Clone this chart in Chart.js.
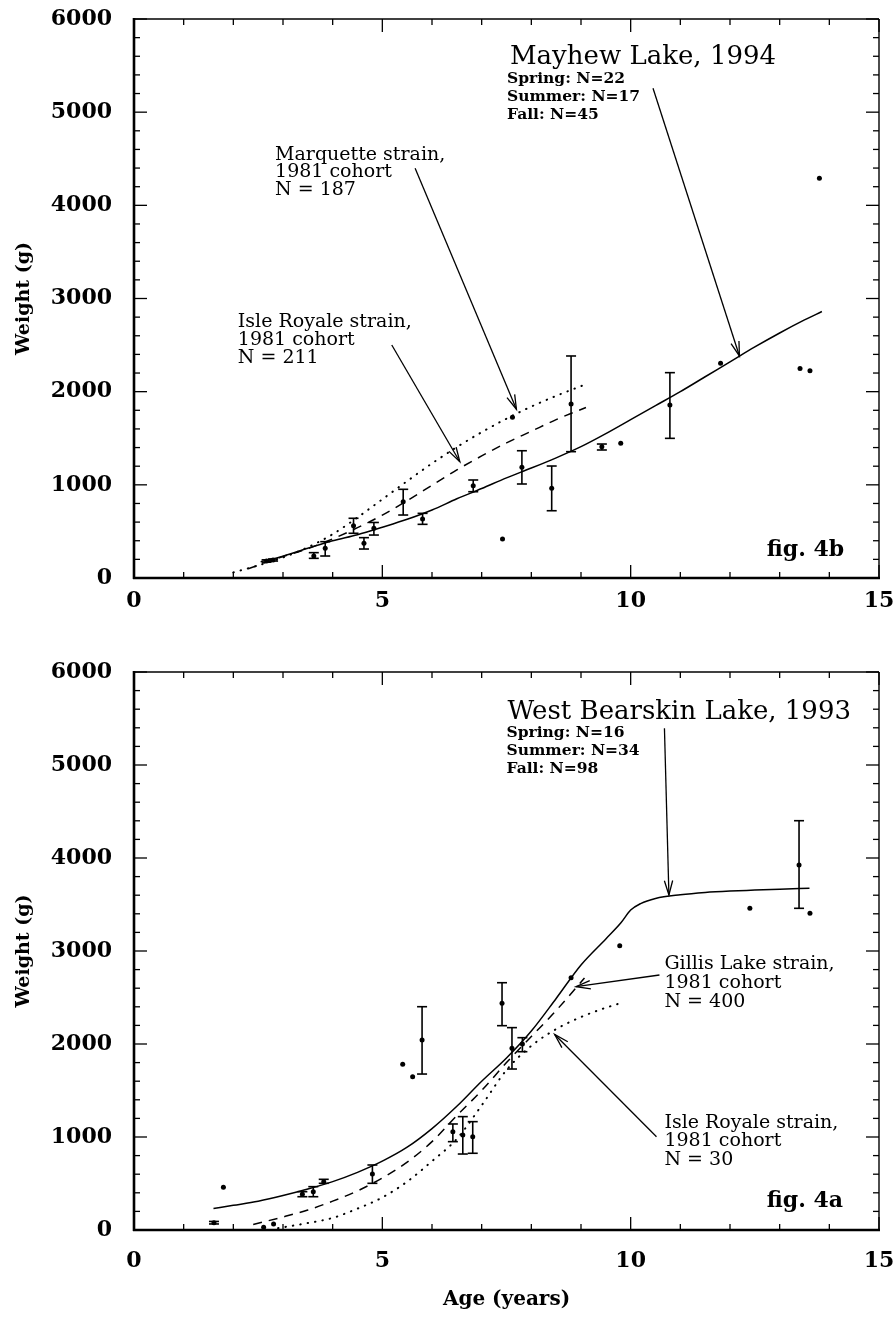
<!DOCTYPE html>
<html>
<head>
<meta charset="utf-8">
<script src="https://cdn.jsdelivr.net/npm/chart.js@4.4.0/dist/chart.umd.min.js"></script>
<style>
  html, body { margin: 0; padding: 0; background: #fff; }
  #wrap { position: relative; width: 894px; height: 1320px; }
  .box { position: absolute; left: 0; width: 894px; }
</style>
</head>
<body>
<div id="wrap">
  <div class="box" style="top:0;height:630px"><canvas id="fig4b"></canvas></div>
  <div class="box" style="top:640px;height:680px"><canvas id="fig4a"></canvas></div>
</div>
<script>
// ---- fig. 4b : Mayhew Lake, 1994 ----
// fitted growth curve (solid)
const mayhewFitAge = [2.55, 3.0, 3.5, 4.0, 4.5, 5.0, 5.5, 6.0, 6.5, 7.0, 7.5, 8.0, 8.5, 9.0, 9.5, 10.0, 10.5, 11.0, 11.5, 12.0, 12.5, 13.0, 13.5, 13.85];
const mayhewFitWt  = [175, 235, 320, 400, 465, 545, 630, 730, 850, 960, 1075, 1180, 1290, 1410, 1550, 1700, 1850, 2000, 2160, 2320, 2480, 2630, 2770, 2860];
// Isle Royale strain, 1981 cohort (dashed)
const isleTopAge = [2.3, 3.0, 3.5, 4.0, 4.5, 5.0, 5.5, 6.0, 6.5, 7.0, 7.5, 8.0, 8.5, 9.1];
const isleTopWt  = [100, 230, 315, 420, 540, 675, 830, 995, 1160, 1310, 1450, 1575, 1700, 1830];
// Marquette strain, 1981 cohort (dotted)
const marqAge = [2.0, 2.5, 3.0, 3.5, 4.0, 4.5, 5.0, 5.5, 6.0, 6.5, 7.0, 7.5, 8.0, 8.5, 9.1];
const marqWt  = [60, 135, 220, 330, 470, 650, 845, 1040, 1230, 1405, 1565, 1710, 1840, 1955, 2080];
// observed means with range (null = single fish)
const mayhewAge  = [2.67, 2.80, 3.62, 3.85, 4.42, 4.63, 4.83, 5.42, 5.81, 6.83, 7.42, 7.62, 7.81, 8.41, 8.80, 9.42, 9.80, 10.79, 11.81, 13.41, 13.61, 13.80];
const mayhewMean = [182, 193, 236, 319, 562, 372, 533, 819, 633, 990, 419, 1725, 1190, 963, 1868, 1410, 1445, 1857, 2304, 2250, 2225, 4290];
const mayhewLow  = [170, 182, 211, 236, 480, 311, 461, 676, 576, 926, null, null, 1009, 722, 1356, 1374, null, 1499, null, null, null, null];
const mayhewHigh = [195, 205, 272, 390, 641, 433, 596, 952, 694, 1052, null, null, 1366, 1202, 2383, 1438, null, 2204, null, null, null, null];

// ---- fig. 4a : West Bearskin Lake, 1993 ----
const bearFitAge = [1.6, 2.0, 2.5, 3.0, 3.5, 4.0, 4.5, 5.0, 5.5, 6.0, 6.5, 7.0, 7.5, 8.0, 8.5, 9.0, 9.5, 9.8, 10.0, 10.2, 10.5, 11.0, 11.5, 12.0, 12.5, 13.0, 13.6];
const bearFitWt  = [230, 265, 310, 370, 440, 520, 620, 740, 890, 1090, 1330, 1600, 1850, 2140, 2490, 2850, 3130, 3300, 3440, 3510, 3565, 3605, 3630, 3645, 3655, 3665, 3675];
// Gillis Lake strain, 1981 cohort (dashed)
const gillisAge = [2.4, 3.0, 3.5, 4.0, 4.5, 5.0, 5.5, 6.0, 6.5, 7.0, 7.5, 8.0, 8.5, 9.07];
const gillisWt  = [60, 140, 215, 310, 420, 560, 730, 950, 1230, 1500, 1800, 2080, 2360, 2710];
// Isle Royale strain, 1981 cohort (dotted)
const isleBotAge = [2.9, 3.5, 4.0, 4.5, 5.0, 5.5, 6.0, 6.5, 7.0, 7.5, 8.0, 8.5, 9.0, 9.5, 9.8];
const isleBotWt  = [20, 75, 130, 230, 350, 520, 740, 980, 1340, 1720, 1980, 2160, 2290, 2390, 2440];
const bearAge  = [1.61, 1.80, 2.61, 2.81, 3.39, 3.61, 3.82, 4.80, 5.41, 5.61, 5.80, 6.42, 6.62, 6.82, 7.41, 7.61, 7.82, 8.80, 9.78, 12.40, 13.39, 13.61];
const bearMean = [79, 459, 29, 65, 384, 412, 520, 602, 1781, 1649, 2043, 1057, 1022, 1004, 2437, 1954, 2000, 2713, 3057, 3459, 3925, 3405];
const bearLow  = [65, null, null, null, 358, 358, 502, 502, null, null, 1677, 950, 817, 825, 2197, 1731, 1917, null, null, null, 3459, null];
const bearHigh = [92, null, null, null, 412, 466, 545, 699, null, null, 2401, 1140, 1219, 1165, 2659, 2176, 2068, null, null, null, 4401, null];

// axis ticks
const ageTicks = [0, 5, 10, 15];
const weightTicks = [0, 1000, 2000, 3000, 4000, 5000, 6000];

const FONT = '"DejaVu Serif", "Liberation Serif", serif';

function pts(xs, ys) { return xs.map((v, i) => ({x: v, y: ys[i]})); }

function noPad(s) { s.paddingLeft = 0; s.paddingRight = 0; s.paddingTop = 0; s.paddingBottom = 0; }

// frame with inward ticks on all four sides, error bars, labels and arrows
const figPlugin = {
  id: 'fig',
  afterDatasetsDraw(chart, args, opts) {
    const {ctx, chartArea: a, scales: {x, y}} = chart;
    const seg = (x1, y1, x2, y2) => { ctx.beginPath(); ctx.moveTo(x1, y1); ctx.lineTo(x2, y2); ctx.stroke(); };
    ctx.save();
    ctx.strokeStyle = '#000';
    ctx.fillStyle = '#000';

    // error bars
    chart.data.datasets.forEach(ds => {
      if (!ds.errLow) return;
      ctx.lineWidth = 1.6;
      ds.data.forEach((p, i) => {
        if (ds.errLow[i] == null) return;
        const px = x.getPixelForValue(p.x);
        const lo = y.getPixelForValue(ds.errLow[i]);
        const hi = y.getPixelForValue(ds.errHigh[i]);
        seg(px, lo, px, hi);
        seg(px - 5, lo, px + 5, lo);
        seg(px - 5, hi, px + 5, hi);
      });
    });

    // ticks
    ctx.lineWidth = 1.3;
    for (let v = x.min; v <= x.max; v += 1) {
      const px = x.getPixelForValue(v);
      const len = v % 5 === 0 ? 13 : 6;
      seg(px, a.bottom, px, a.bottom - len);
      seg(px, a.top, px, a.top + len);
    }
    for (let v = y.min; v <= y.max; v += 200) {
      const py = y.getPixelForValue(v);
      const len = v % 1000 === 0 ? 13 : 6;
      seg(a.left, py, a.left + len, py);
      seg(a.right, py, a.right - len, py);
    }
    // frame
    ctx.lineWidth = 1.4;
    seg(a.left, a.top, a.right, a.top);
    seg(a.right, a.top, a.right, a.bottom);
    ctx.lineWidth = 2.6;
    seg(a.left, a.top - 1, a.left, a.bottom + 1);
    seg(a.left - 1, a.bottom, a.right + 1, a.bottom);

    // arrows
    ctx.lineWidth = 1.3;
    (opts.arrows || []).forEach(r => {
      const x1 = x.getPixelForValue(r[0]), y1 = y.getPixelForValue(r[1]);
      const x2 = x.getPixelForValue(r[2]), y2 = y.getPixelForValue(r[3]);
      seg(x1, y1, x2, y2);
      const ang = Math.atan2(y2 - y1, x2 - x1);
      ctx.beginPath();
      ctx.moveTo(x2 - 15 * Math.cos(ang - 0.28), y2 - 15 * Math.sin(ang - 0.28));
      ctx.lineTo(x2, y2);
      ctx.lineTo(x2 - 15 * Math.cos(ang + 0.28), y2 - 15 * Math.sin(ang + 0.28));
      ctx.stroke();
    });

    // text notes
    ctx.textAlign = 'left';
    ctx.textBaseline = 'alphabetic';
    (opts.notes || []).forEach(n => {
      ctx.font = n.font + ' ' + FONT;
      ctx.fillText(n.text, x.getPixelForValue(n.x), y.getPixelForValue(n.y));
    });
    ctx.restore();
  }
};

function makeFigure(canvasId, padTop, axisH, labelPad, showAgeTitle, curves, obs, notes, arrows) {
  const ctx = document.getElementById(canvasId).getContext('2d');
  const lineStyle = {solid: [], dashed: [9, 7], dotted: [0.5, 7]};
  const datasets = curves.map(c => ({
    type: 'line',
    data: pts(c.age, c.wt),
    showLine: true,
    borderColor: '#000',
    borderWidth: c.style === 'dotted' ? 2 : 1.5,
    borderDash: lineStyle[c.style],
    borderCapStyle: c.style === 'dotted' ? 'round' : 'butt',
    cubicInterpolationMode: 'monotone',
    pointRadius: 0,
    fill: false
  }));
  datasets.push({
    type: 'scatter',
    data: pts(obs.age, obs.mean),
    errLow: obs.low,
    errHigh: obs.high,
    pointRadius: 2.5,
    pointBorderWidth: 0,
    backgroundColor: '#000',
    borderColor: '#000'
  });
  return new Chart(ctx, {
    type: 'scatter',
    data: { datasets: datasets },
    plugins: [figPlugin],
    options: {
      responsive: true,
      maintainAspectRatio: false,
      animation: false,
      layout: { padding: { top: padTop, right: 15, bottom: 0, left: 0 } },
      plugins: {
        legend: { display: false },
        tooltip: { enabled: false },
        fig: { notes: notes, arrows: arrows }
      },
      scales: {
        x: {
          type: 'linear', min: 0, max: 15,
          border: { display: false },
          grid: { display: false, drawTicks: false },
          afterBuildTicks: s => { s.ticks = ageTicks.map(v => ({value: v})); },
          ticks: { padding: labelPad, color: '#000', maxRotation: 0, callback: v => String(v),
                   font: { family: FONT, weight: 'bold', size: 22 } },
          title: { display: showAgeTitle, text: 'Age (years)', color: '#000', padding: { top: 0, bottom: 8 },
                   font: { family: FONT, weight: 'bold', size: 20 } },
          afterFit: s => { s.height = axisH; noPad(s); }
        },
        y: {
          type: 'linear', min: 0, max: 6000,
          border: { display: false },
          grid: { display: false, drawTicks: false },
          afterBuildTicks: s => { s.ticks = weightTicks.map(v => ({value: v})); },
          ticks: { padding: 22, color: '#000', callback: v => String(v),
                   font: { family: FONT, weight: 'bold', size: 22 } },
          title: { display: true, text: 'Weight (g)', color: '#000', padding: { top: 13, bottom: 0 },
                   font: { family: FONT, weight: 'bold', size: 19 } },
          afterFit: s => { s.width = 134; noPad(s); }
        }
      }
    }
  });
}

makeFigure('fig4b', 19, 52, 10, false,
  [
    {age: mayhewFitAge, wt: mayhewFitWt, style: 'solid'},
    {age: isleTopAge, wt: isleTopWt, style: 'dashed'},
    {age: marqAge, wt: marqWt, style: 'dotted'}
  ],
  {age: mayhewAge, mean: mayhewMean, low: mayhewLow, high: mayhewHigh},
  [
    {text: 'Mayhew Lake, 1994', x: 7.57, y: 5517, font: 'normal 26px'},
    {text: 'Spring: N=22', x: 7.51, y: 5313, font: 'bold 15.5px'},
    {text: 'Summer: N=17', x: 7.51, y: 5120, font: 'bold 15.5px'},
    {text: 'Fall: N=45', x: 7.51, y: 4926, font: 'bold 15.5px'},
    {text: 'Marquette strain,', x: 2.84, y: 4486, font: 'normal 19px'},
    {text: '1981 cohort', x: 2.84, y: 4304, font: 'normal 19px'},
    {text: 'N = 187', x: 2.84, y: 4111, font: 'normal 19px'},
    {text: 'Isle Royale strain,', x: 2.09, y: 2697, font: 'normal 19px'},
    {text: '1981 cohort', x: 2.09, y: 2501, font: 'normal 19px'},
    {text: 'N = 211', x: 2.09, y: 2308, font: 'normal 19px'},
    {text: 'fig. 4b', x: 12.74, y: 236, font: 'bold 22px'}
  ],
  [
    [10.45, 5256, 12.19, 2383],
    [5.66, 4397, 7.70, 1811],
    [5.19, 2501, 6.56, 1248]
  ]
);

makeFigure('fig4a', 32, 90, 18, true,
  [
    {age: bearFitAge, wt: bearFitWt, style: 'solid'},
    {age: gillisAge, wt: gillisWt, style: 'dashed'},
    {age: isleBotAge, wt: isleBotWt, style: 'dotted'}
  ],
  {age: bearAge, mean: bearMean, low: bearLow, high: bearHigh},
  [
    {text: 'West Bearskin Lake, 1993', x: 7.52, y: 5495, font: 'normal 26px'},
    {text: 'Spring: N=16', x: 7.50, y: 5301, font: 'bold 15.5px'},
    {text: 'Summer: N=34', x: 7.50, y: 5108, font: 'bold 15.5px'},
    {text: 'Fall: N=98', x: 7.50, y: 4914, font: 'bold 15.5px'},
    {text: 'Gillis Lake strain,', x: 10.68, y: 2803, font: 'normal 19px'},
    {text: '1981 cohort', x: 10.68, y: 2602, font: 'normal 19px'},
    {text: 'N = 400', x: 10.68, y: 2401, font: 'normal 19px'},
    {text: 'Isle Royale strain,', x: 10.68, y: 1097, font: 'normal 19px'},
    {text: '1981 cohort', x: 10.68, y: 903, font: 'normal 19px'},
    {text: 'N = 30', x: 10.68, y: 699, font: 'normal 19px'},
    {text: 'fig. 4a', x: 12.74, y: 251, font: 'bold 22px'}
  ],
  [
    [10.68, 5395, 10.77, 3602],
    [10.58, 2742, 8.90, 2616],
    [10.52, 1003, 8.47, 2102]
  ]
);
</script>
</body>
</html>
